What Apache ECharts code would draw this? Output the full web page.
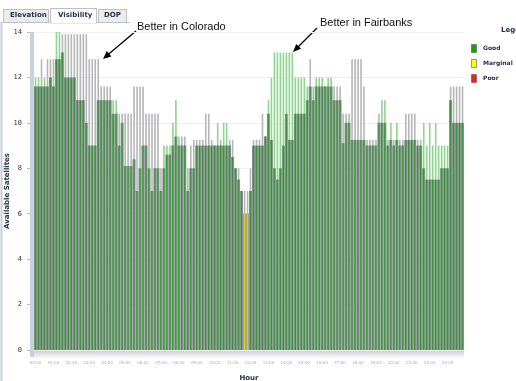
<!DOCTYPE html>
<html><head><meta charset="utf-8">
<script src="https://cdn.jsdelivr.net/npm/echarts@6/dist/echarts.min.js"></script>
<style>html,body{margin:0;padding:0;background:#fff;}#c{width:516px;height:381px;}</style>
</head><body><div id="c"></div>
<script>
const hourLabels = ['00:00','01:00','02:00','03:00','04:00','05:00','06:00','07:00','08:00','09:00','10:00','11:00',
  '12:00','13:00','14:00','15:00','16:00','17:00','18:00','19:00','20:00','21:00','22:00','23:00'];
const minuteSteps = ['00','10','20','30','40','50'];
const yTicks = [0,2,4,6,8,10,12,14];

// Available satellites, 10-minute samples
const colorado = [
 11.6,11.6,12.8,11.6,12.8,12.8,12.8,12.8,12.8,13.9,13.9,13.9,13.9,13.9,13.9,13.9,13.9,13.9,12.8,12.8,12.8,12.8,11.6,11.6,
 11.6,11.6,10.4,10.4,10.4,10.4,10.4,10.4,10.4,11.6,11.6,11.6,11.6,10.4,10.4,10.4,10.4,10.4,8.0,8.0,8.6,8.6,9.0,9.4,
 9.4,9.4,9.4,8.0,9.0,9.25,9.25,9.25,9.25,10.4,10.4,9.25,9.0,9.0,9.25,9.0,9.0,9.25,9.25,8.0,8.0,7.0,7.0,7.0,
 8.0,9.25,9.25,9.25,10.4,9.4,10.4,9.25,8.0,7.5,8.0,9.0,10.4,9.25,9.25,10.4,10.4,10.4,10.4,11.0,12.8,11.6,11.6,11.6,
 11.6,11.6,11.6,11.6,11.6,11.6,11.6,10.4,10.4,10.4,12.8,12.8,12.8,12.8,11.6,9.25,9.25,9.25,9.25,10.4,10.0,10.0,9.25,9.25,
 9.25,9.25,9.25,9.25,10.4,10.4,10.4,10.4,9.25,9.0,8.0,7.5,7.5,7.5,7.5,7.5,8.0,8.0,8.0,11.6,11.6,11.6,11.6,11.6
];
const fairbanks = [
 12.0,12.0,11.6,12.0,11.6,12.0,11.6,14.0,14.0,13.1,12.0,12.0,12.0,12.0,11.0,11.0,11.0,10.0,9.0,9.0,9.0,11.0,11.0,11.0,
 11.0,11.0,11.0,11.0,9.0,10.0,8.1,8.1,8.1,8.4,7.0,8.0,9.0,9.0,8.0,7.0,8.0,8.0,7.0,9.0,9.0,9.0,10.0,11.0,
 9.0,9.0,9.0,7.0,8.0,8.0,9.0,9.0,9.0,9.0,9.0,9.0,9.0,10.0,9.0,10.0,10.0,9.0,8.5,8.0,7.5,7.0,6.0,6.0,
 7.0,9.0,9.0,9.0,9.0,9.4,11.0,12.0,13.1,13.1,13.1,13.1,13.1,13.1,13.1,12.0,12.0,12.0,12.0,11.6,11.6,11.0,12.0,12.0,
 12.0,11.6,12.0,12.0,11.0,11.0,11.0,9.1,10.0,10.0,9.25,9.25,9.25,9.25,9.25,9.0,9.0,9.0,9.0,10.0,11.0,11.0,9.0,10.0,
 9.0,10.0,9.0,9.0,9.25,9.25,9.25,9.25,9.0,9.25,10.0,9.0,10.0,9.0,10.0,9.0,9.0,9.0,9.0,11.0,10.0,10.0,10.0,10.0
];
// slots where Fairbanks quality is Marginal
const marginalSlots = [70,71];
const legendItems = ['Good','Marginal','Poor'];
const legendColors = ['#13a313','#ffff00','#ff1a1a'];
const tabs = ['Elevation','Visibility','DOP'];
const notes = ['Better in Colorado','Better in Fairbanks'];

const categories = [];
hourLabels.forEach(h => minuteSteps.forEach(m => categories.push(h.slice(0,3) + m)));

const C_GRAY = '#b6b6b8', C_LIGHT = '#8fd48f', C_DARK = '#3f8f3f', C_YELLOW = '#d9cc26';
const maxData = colorado.map((c,i) => {
  const f = fairbanks[i];
  return {value: Math.max(c,f), itemStyle:{color: c >= f ? C_GRAY : C_LIGHT}};
});
const minData = colorado.map((c,i) => {
  const f = fairbanks[i];
  return {value: Math.min(c,f), itemStyle:{color: marginalSlots.includes(i) ? C_YELLOW : C_DARK}};
});
const gapData = colorado.map((c,i) => Math.min(c, fairbanks[i]));

const chart = echarts.init(document.getElementById('c'), null, {renderer:'canvas'});
const tabFont = 'bold 7px "DejaVu Sans"';
const graphics = [
  {type:'line', shape:{x1:0,y1:22.5,x2:130,y2:22.5}, style:{stroke:'#c4c8cc',lineWidth:1}},
  {type:'rect', shape:{x:3.5,y:9.5,width:45,height:13}, style:{fill:'#ececec',stroke:'#c0c0c0'}},
  {type:'rect', shape:{x:50.5,y:8.5,width:46,height:14.5}, style:{fill:'#ffffff',stroke:'#c0c0c0'}},
  {type:'rect', shape:{x:98.5,y:9.5,width:28,height:13}, style:{fill:'#ececec',stroke:'#c0c0c0'}},
  {type:'line', shape:{x1:51,y1:22.5,x2:96,y2:22.5}, style:{stroke:'#ffffff',lineWidth:1.5}},
  {type:'text', left:10, top:12, style:{text:tabs[0], font:tabFont, fill:'#23334a'}},
  {type:'text', left:58, top:12, style:{text:tabs[1], font:tabFont, fill:'#23334a'}},
  {type:'text', left:104, top:12, style:{text:tabs[2], font:tabFont, fill:'#23334a'}},
  {type:'line', shape:{x1:1.5,y1:22,x2:1.5,y2:381}, style:{stroke:'#c6d0dc',lineWidth:2}},
  {type:'rect', z:10, shape:{x:30,y:32,width:4,height:325}, style:{fill:'#c9d1dc'}},
  {type:'rect', shape:{x:34,y:350,width:430,height:9}, style:{fill:new echarts.graphic.LinearGradient(0,0,0,1,[{offset:0,color:'#c9cbd6'},{offset:1,color:'#ffffff'}])}},
  {type:'text', left:137, top:21, style:{text:notes[0], font:'11px "Liberation Sans"', fill:'#111'}},
  {type:'text', left:320, top:17, style:{text:notes[1], font:'11px "Liberation Sans"', fill:'#111'}},
  {type:'line', shape:{x1:136,y1:31,x2:107,y2:55.5}, style:{stroke:'#000',lineWidth:1.3}},
  {type:'polygon', shape:{points:[[103,59],[111.4,56.5],[106.8,51.1]]}, style:{fill:'#000'}},
  {type:'line', shape:{x1:317,y1:28,x2:297,y2:48}, style:{stroke:'#000',lineWidth:1.3}},
  {type:'polygon', shape:{points:[[293,52],[301.1,48.8],[296.2,43.9]]}, style:{fill:'#000'}},
  {type:'text', left:501, top:27, style:{text:'Legend', font:tabFont, fill:'#23334a'}}
];
legendItems.forEach((name,i) => {
  graphics.push({type:'rect', shape:{x:471.5,y:44.5+i*15,width:5,height:8}, style:{fill:legendColors[i],stroke:'#555',lineWidth:0.6}});
  graphics.push({type:'text', left:483, top:45+i*15, style:{text:name, font:'bold 6px "DejaVu Sans"', fill:'#23334a'}});
});

chart.setOption({
  animation:false,
  backgroundColor:'#fff',
  grid:{left:34, right:52, top:32, bottom:31, containLabel:false, outerBoundsMode:'none'},
  xAxis:[{
    type:'category', data:categories,
    name:'Hour', nameLocation:'middle', nameGap:25, nameMoveOverlap:false,
    nameTextStyle:{fontFamily:'DejaVu Sans', fontWeight:'bold', fontSize:7, color:'#23334a'},
    axisLine:{show:false}, axisTick:{show:false},
    axisLabel:{interval:5, fontSize:4, color:'#aab', margin:11, fontFamily:'DejaVu Sans'}
  },{
    type:'category', data:categories, show:false
  }],
  yAxis:{
    type:'value', min:yTicks[0], max:yTicks[yTicks.length-1], interval:2,
    name:'Available Satellites', nameLocation:'middle', nameGap:23, nameMoveOverlap:false,
    nameTextStyle:{fontFamily:'DejaVu Sans', fontWeight:'bold', fontSize:7, color:'#23334a'},
    axisLine:{show:false},
    axisTick:{show:true, length:7, lineStyle:{color:'#b8b8b8'}},
    axisLabel:{fontFamily:'DejaVu Sans Mono', fontSize:7, color:'#333', margin:12},
    splitLine:{lineStyle:{color:'#f0f0f0'}}
  },
  series:[
    {type:'bar', xAxisIndex:1, data:gapData, barCategoryGap:'0%', itemStyle:{color:'#8c8c9a'}, silent:true},
    {type:'bar', xAxisIndex:0, data:maxData, barWidth:1.6, barGap:'-100%', silent:true},
    {type:'bar', xAxisIndex:0, data:minData, barWidth:1.5, barGap:'-100%', silent:true}
  ],
  graphic:graphics
});
</script></body></html>
